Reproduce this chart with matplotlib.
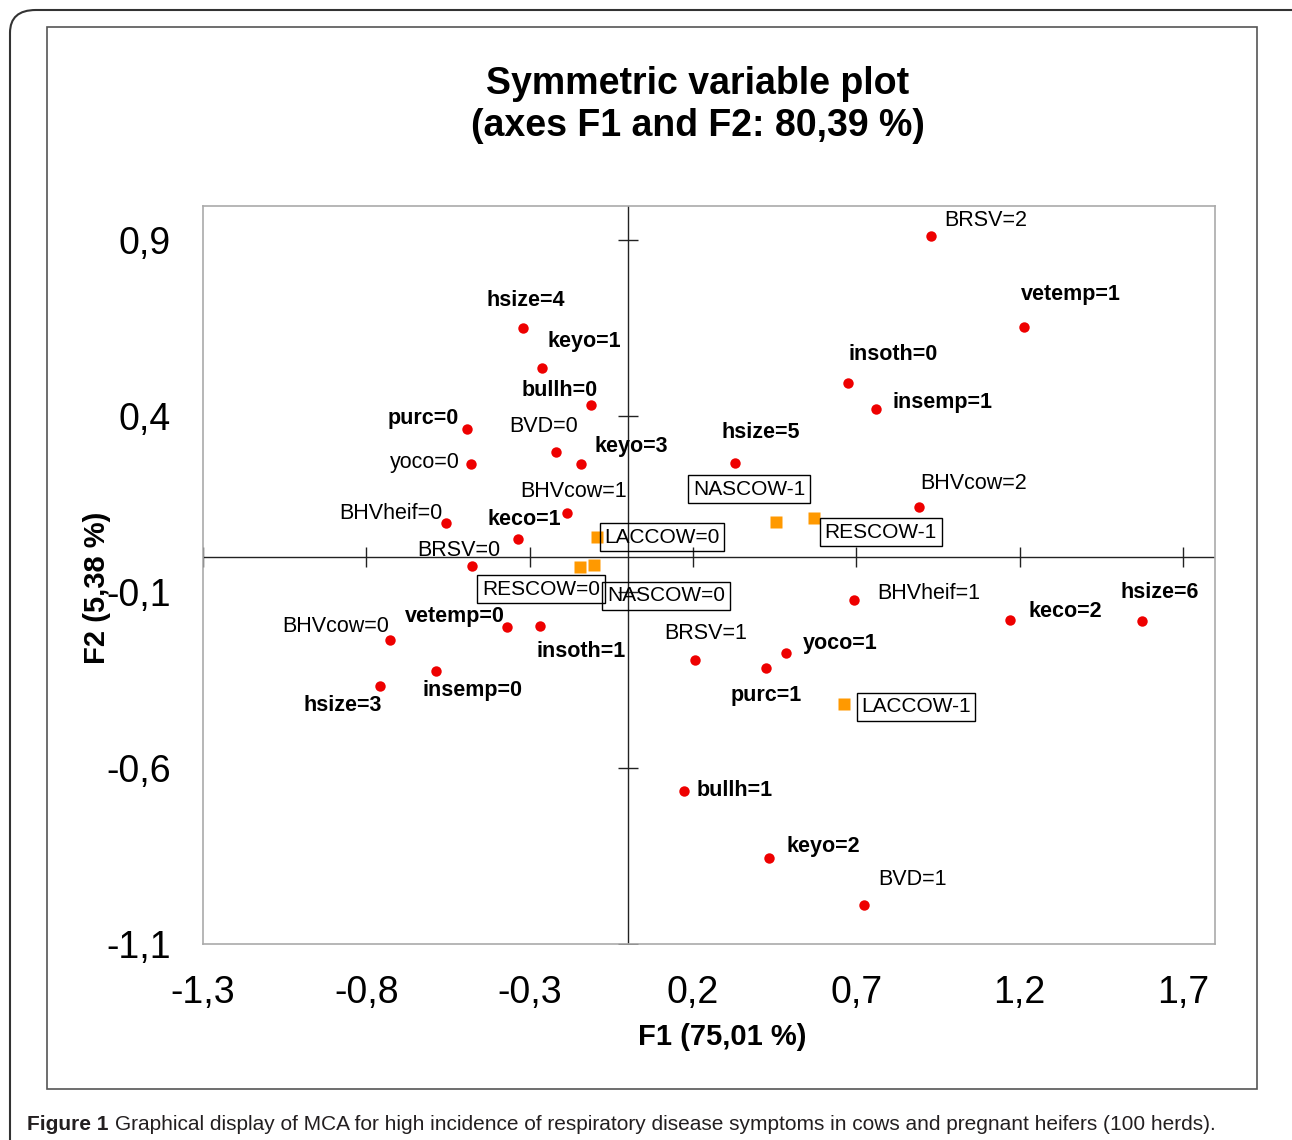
import matplotlib
matplotlib.use("Agg")
import matplotlib.pyplot as plt
from matplotlib.patches import FancyBboxPatch, Rectangle

plt.rcParams['font.family'] = ['Liberation Sans', 'DejaVu Sans']
plt.rcParams['axes.unicode_minus'] = False

# category points (red dots)
cat_names = ['BRSV=2', 'vetemp=1', 'insoth=0', 'insemp=1', 'hsize=5', 'BHVcow=2',
             'BHVheif=1', 'keco=2', 'hsize=6', 'BRSV=1', 'yoco=1', 'purc=1',
             'bullh=1', 'keyo=2', 'BVD=1',
             'hsize=4', 'keyo=1', 'bullh=0', 'purc=0', 'BVD=0', 'keyo=3', 'yoco=0',
             'BHVcow=1', 'BHVheif=0', 'keco=1', 'BRSV=0', 'BHVcow=0', 'vetemp=0',
             'insoth=1', 'insemp=0', 'hsize=3']
cat_f1 = [0.928, 1.213, 0.674, 0.760, 0.328, 0.892,
          0.693, 1.170, 1.574, 0.206, 0.485, 0.423,
          0.172, 0.432, 0.723,
          -0.320, -0.262, -0.112, -0.492, -0.219, -0.143, -0.480,
          -0.186, -0.556, -0.336, -0.477, -0.728, -0.369,
          -0.268, -0.587, -0.758]
cat_f2 = [0.911, 0.653, 0.494, 0.420, 0.266, 0.141,
          -0.123, -0.180, -0.182, -0.293, -0.273, -0.316,
          -0.665, -0.855, -0.989,
          0.650, 0.536, 0.431, 0.363, 0.298, 0.264, 0.264,
          0.124, 0.096, 0.051, -0.026, -0.236, -0.200,
          -0.197, -0.324, -0.367]
bold_names = ['vetemp=1', 'insoth=0', 'insemp=1', 'hsize=5', 'keco=2', 'hsize=6',
              'yoco=1', 'purc=1', 'bullh=1', 'keyo=2', 'hsize=4', 'keyo=1',
              'bullh=0', 'purc=0', 'keyo=3', 'keco=1', 'vetemp=0', 'insoth=1',
              'insemp=0', 'hsize=3']

# supplementary points (orange squares)
sup_names = ['NASCOW-1', 'RESCOW-1', 'LACCOW-1', 'LACCOW=0', 'RESCOW=0', 'NASCOW=0']
sup_f1 = [0.454, 0.570, 0.662, -0.094, -0.146, -0.103]
sup_f2 = [0.099, 0.110, -0.418, 0.056, -0.029, -0.023]

x_ticks = [-1.3, -0.8, -0.3, 0.2, 0.7, 1.2, 1.7]
y_ticks = [0.9, 0.4, -0.1, -0.6, -1.1]

# label offsets in pixels (dx, dy) from the point
offsets = {
    'BRSV=2': (55, 16), 'vetemp=1': (47, 33), 'insoth=0': (45, 29), 'insemp=1': (67, 7),
    'hsize=5': (26, 31), 'BHVcow=2': (55, 24), 'BHVheif=1': (75, 7), 'keco=2': (55, 9),
    'hsize=6': (18, 28), 'BRSV=1': (11, 26), 'yoco=1': (54, 9), 'purc=1': (0, -27),
    'bullh=1': (51, 0), 'keyo=2': (55, 11), 'BVD=1': (49, 25),
    'hsize=4': (3, 28), 'keyo=1': (42, 27), 'bullh=0': (-31, 15), 'purc=0': (-44, 11),
    'BVD=0': (-12, 25), 'keyo=3': (50, 17), 'yoco=0': (-46, 1), 'BHVcow=1': (7, 22),
    'BHVheif=0': (-55, 10), 'keco=1': (6, 19), 'BRSV=0': (-13, 16), 'BHVcow=0': (-54, 13),
    'vetemp=0': (-52, 11), 'insoth=1': (41, -25), 'insemp=0': (37, -20), 'hsize=3': (-37, -19),
    'NASCOW-1': (-27, 33), 'RESCOW-1': (67, -14), 'LACCOW-1': (72, -3),
    'LACCOW=0': (65, 0), 'RESCOW=0': (-39, -22), 'NASCOW=0': (72, -31),
}

fig = plt.figure(figsize=(12.92, 11.40), dpi=100)

# page frames
fig.patches.append(FancyBboxPatch((10/1292, -0.05), 1.2, 1.05 - 10/1140,
                                  boxstyle='round,pad=0,rounding_size=0.02',
                                  transform=fig.transFigure, fill=False,
                                  ec='#333333', lw=1.5))
fig.patches.append(Rectangle((47/1292, 1 - 1089/1140), (1257-47)/1292, (1089-27)/1140,
                             transform=fig.transFigure, fill=False, ec='#555555', lw=1.2))

ax = fig.add_axes([203/1292, 1 - 944/1140, (1215-203)/1292, (944-206)/1140])
ax.set_xlim(-1.3, 1.798)
ax.set_ylim(-1.1, 0.997)
for s in ax.spines.values():
    s.set_color('#aaaaaa')
    s.set_linewidth(1.2)

ax.axhline(0, color='#222222', lw=1, zorder=1)
ax.axvline(0, color='#222222', lw=1, zorder=1)
ax.plot(x_ticks, [0]*len(x_ticks), ls='none', marker='|', ms=15, mew=1, color='#222222', zorder=1)
ax.plot([0]*len(y_ticks), y_ticks, ls='none', marker='_', ms=15, mew=1, color='#222222', zorder=1)

ax.set_xticks(x_ticks)
ax.set_yticks(y_ticks)
ax.set_xticklabels([('%.1f' % v).replace('.', ',') for v in x_ticks])
ax.set_yticklabels([('%.1f' % v).replace('.', ',') for v in y_ticks])
ax.tick_params(axis='both', length=0, labelsize=27)
ax.tick_params(axis='x', pad=22)
ax.tick_params(axis='y', pad=23)

ax.plot(cat_f1, cat_f2, 'o', color='#ee0000', ms=7.5, mec='none', zorder=3)
ax.plot(sup_f1, sup_f2, 's', color='#ff9900', ms=8, mec='none', zorder=3)

for n, x, y in zip(cat_names, cat_f1, cat_f2):
    ax.annotate(n, (x, y), xytext=offsets[n], textcoords='offset pixels',
                ha='center', va='center', fontsize=15.5,
                fontweight='bold' if n in bold_names else 'normal', zorder=4)
for n, x, y in zip(sup_names, sup_f1, sup_f2):
    ax.annotate(n, (x, y), xytext=offsets[n], textcoords='offset pixels',
                ha='center', va='center', fontsize=15, zorder=4,
                bbox=dict(boxstyle='square,pad=0.22', fc='none', ec='black', lw=1))

fig.text(698/1292, 1 - 105/1140, 'Symmetric variable plot\n(axes F1 and F2: 80,39 %)',
         ha='center', va='center', fontsize=27, fontweight='bold', linespacing=1.25)
fig.text(722/1292, 1 - 1037/1140, 'F1 (75,01 %)', ha='center', va='center',
         fontsize=21, fontweight='bold')
fig.text(97/1292, 1 - 588/1140, 'F2 (5,38 %)', ha='center', va='center',
         fontsize=21, fontweight='bold', rotation=90)

# caption
r = fig.canvas.get_renderer()
cap_y = 1 - 1125/1140
cap_size = 14
t1 = fig.text(27/1292, cap_y, 'Figure 1', ha='left', va='center', fontsize=cap_size,
              fontweight='bold', color='#231f20')
t2 = fig.text(0, cap_y,
              'Graphical display of MCA for high incidence of respiratory disease symptoms '
              'in cows and pregnant heifers (100 herds).',
              ha='left', va='center', fontsize=cap_size, color='#231f20')
w = t1.get_window_extent(r).width + 6 + t2.get_window_extent(r).width
scale = 1198 / w
t1.set_fontsize(cap_size * scale)
t2.set_fontsize(cap_size * scale)
bb = t1.get_window_extent(r)
t2.set_x((bb.x1 + 6 * scale)/1292)

fig.savefig('out.png', dpi=100)
